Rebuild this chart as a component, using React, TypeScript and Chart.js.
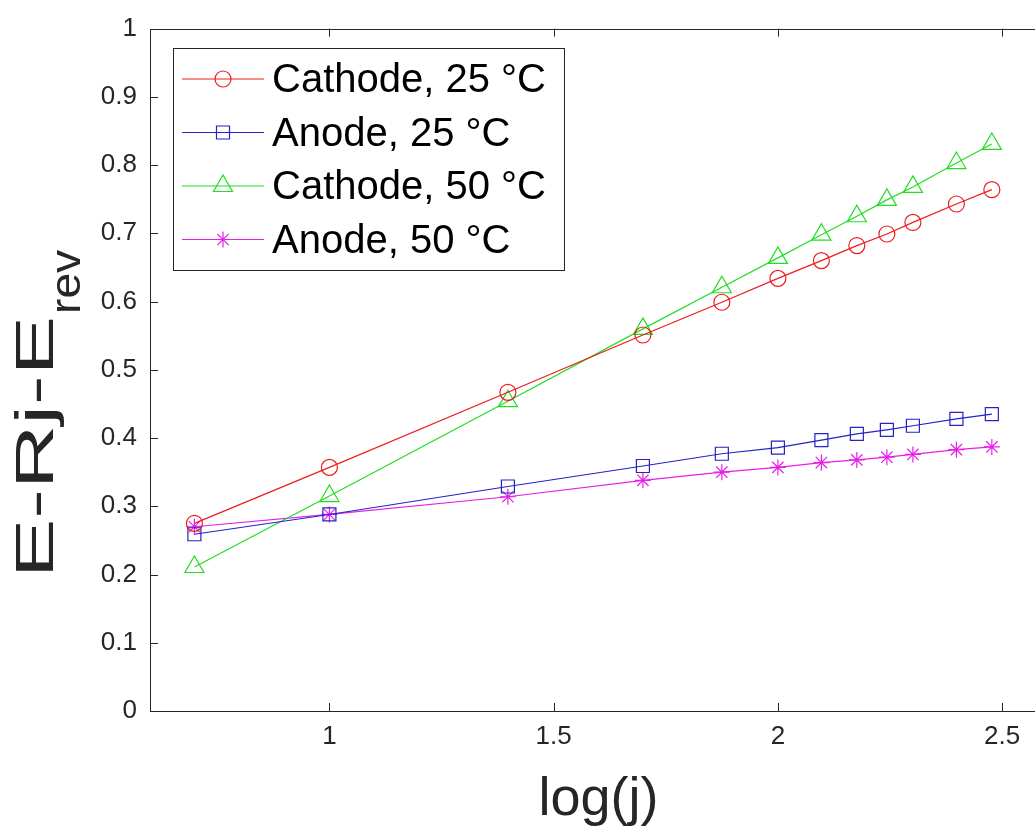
import React, { useEffect, useRef } from "react";
import { Chart, registerables } from "chart.js";

Chart.register(...registerables);

const xValues = [0.699, 1, 1.398, 1.699, 1.875, 2, 2.097, 2.176, 2.243, 2.301, 2.398, 2.477];
const cathode25 = [0.275, 0.357, 0.467, 0.551, 0.599, 0.634, 0.66, 0.682, 0.699, 0.716, 0.743, 0.764];
const anode25 = [0.259, 0.288, 0.329, 0.359, 0.377, 0.386, 0.397, 0.406, 0.412, 0.418, 0.428, 0.435];
const cathode50 = [0.211, 0.315, 0.454, 0.56, 0.621, 0.664, 0.698, 0.725, 0.749, 0.768, 0.803, 0.831];
const anode50 = [0.27, 0.288, 0.314, 0.338, 0.35, 0.357, 0.364, 0.368, 0.372, 0.376, 0.383, 0.387];

const seriesLabels = ["Cathode, 25 \u00B0C", "Anode, 25 \u00B0C", "Cathode, 50 \u00B0C", "Anode, 50 \u00B0C"];
const seriesColors = ["#ee1c1c", "#2323c8", "#22dd22", "#e81ee8"];
const seriesMarkers = ["circle", "rect", "triangle", "star"];
const seriesRadii = [8, 9.2, 11, 8];
const xTicks = [1, 1.5, 2, 2.5];
const yTickStep = 0.1;
const xTitle = "log(j)";
const yTitleMain = "E-Rj-E";
const yTitleSub = "rev";

const FONT = "'Liberation Sans', Arial, Helvetica, sans-serif";
const AXIS_COLOR = "#262626";

function drawMarker(ctx: CanvasRenderingContext2D, style: string, x: number, y: number, r: number) {
  ctx.beginPath();
  if (style === "circle") {
    ctx.arc(x, y, r, 0, Math.PI * 2);
  } else if (style === "rect") {
    const s = Math.SQRT1_2 * r;
    ctx.rect(x - s, y - s, 2 * s, 2 * s);
  } else if (style === "triangle") {
    let a = 0;
    ctx.moveTo(x + Math.sin(a) * r, y - Math.cos(a) * r);
    a += (2 * Math.PI) / 3;
    ctx.lineTo(x + Math.sin(a) * r, y - Math.cos(a) * r);
    a += (2 * Math.PI) / 3;
    ctx.lineTo(x + Math.sin(a) * r, y - Math.cos(a) * r);
    ctx.closePath();
  } else {
    ctx.moveTo(x - r, y);
    ctx.lineTo(x + r, y);
    ctx.moveTo(x, y - r);
    ctx.lineTo(x, y + r);
    const d = r * Math.SQRT1_2;
    ctx.moveTo(x - d, y - d);
    ctx.lineTo(x + d, y + d);
    ctx.moveTo(x - d, y + d);
    ctx.lineTo(x + d, y - d);
  }
  ctx.stroke();
}

const framePlugin = {
  id: "framePlugin",
  afterDatasetsDraw(chart: any) {
    const { ctx, chartArea } = chart;
    const { left, right, top, bottom } = chartArea;
    const xs = chart.scales.x;
    const ys = chart.scales.y;
    ctx.save();
    ctx.strokeStyle = AXIS_COLOR;
    ctx.lineWidth = 1;
    ctx.strokeRect(Math.round(left) + 0.5, Math.round(top) + 0.5, Math.round(right - left), Math.round(bottom - top));
    const tl = 8;
    ctx.beginPath();
    xTicks.forEach((v) => {
      const px = Math.round(xs.getPixelForValue(v)) + 0.5;
      ctx.moveTo(px, bottom);
      ctx.lineTo(px, bottom - tl);
      ctx.moveTo(px, top);
      ctx.lineTo(px, top + tl);
    });
    ys.ticks.forEach((t: any) => {
      const py = Math.round(ys.getPixelForValue(t.value)) + 0.5;
      ctx.moveTo(left, py);
      ctx.lineTo(left + tl, py);
      ctx.moveTo(right, py);
      ctx.lineTo(right - tl, py);
    });
    ctx.stroke();

    // legend
    const lx = 173, ly = 48, lw = 391, lh = 222;
    ctx.fillStyle = "#ffffff";
    ctx.fillRect(lx, ly, lw, lh);
    ctx.strokeStyle = AXIS_COLOR;
    ctx.strokeRect(lx + 0.5, ly + 0.5, lw, lh);
    const rowY = [79, 132.5, 186, 239.5];
    seriesLabels.forEach((lab, i) => {
      const y = rowY[i];
      ctx.strokeStyle = seriesColors[i];
      ctx.lineWidth = 1.2;
      ctx.beginPath();
      ctx.moveTo(182, y);
      ctx.lineTo(264, y);
      ctx.stroke();
      drawMarker(ctx, seriesMarkers[i], 223, y, seriesRadii[i]);
      ctx.fillStyle = "#000000";
      ctx.font = `40px ${FONT}`;
      ctx.textBaseline = "middle";
      ctx.textAlign = "left";
      ctx.fillText(lab, 272, y + 2);
    });
    ctx.restore();
  },
  afterDraw(chart: any) {
    const { ctx, chartArea } = chart;
    ctx.save();
    ctx.fillStyle = AXIS_COLOR;
    ctx.font = `54px ${FONT}`;
    ctx.textAlign = "center";
    ctx.textBaseline = "alphabetic";
    ctx.fillText(xTitle, (chartArea.left + chartArea.right) / 2, 815);
    ctx.restore();

    // y title with subscript (stretched along its length as in the source)
    ctx.save();
    ctx.fillStyle = AXIS_COLOR;
    ctx.textAlign = "left";
    ctx.textBaseline = "alphabetic";
    ctx.font = `54px ${FONT}`;
    const wMain = ctx.measureText(yTitleMain).width;
    const stretch = 262 / wMain;
    ctx.translate(53, 578);
    ctx.rotate(-Math.PI / 2);
    ctx.save();
    ctx.scale(stretch, 1);
    ctx.fillText(yTitleMain, 0, 0);
    ctx.restore();
    ctx.font = `42px ${FONT}`;
    ctx.save();
    ctx.translate(wMain * stretch + 2, 27);
    ctx.scale(1.1, 1);
    ctx.fillText(yTitleSub, 0, 0);
    ctx.restore();
    ctx.restore();
  },
};

export default function App() {
  const ref = useRef<HTMLCanvasElement | null>(null);
  useEffect(() => {
    if (!ref.current) return;
    const series = [cathode25, anode25, cathode50, anode50];
    const chart = new Chart(ref.current, {
      type: "line",
      data: {
        datasets: series.map((vals, i) => ({
          label: seriesLabels[i],
          data: xValues.map((x, j) => ({ x, y: vals[j] })),
          borderColor: seriesColors[i],
          backgroundColor: "rgba(0,0,0,0)",
          borderWidth: 1.2,
          pointStyle: seriesMarkers[i] as any,
          pointRadius: seriesRadii[i],
          pointBorderColor: seriesColors[i],
          pointBackgroundColor: "rgba(0,0,0,0)",
          pointBorderWidth: 1.2,
          tension: 0,
          fill: false,
        })),
      },
      options: {
        responsive: false,
        animation: false,
        devicePixelRatio: 1,
        layout: { padding: { top: 27, right: 43, left: 0, bottom: 0 } },
        plugins: { legend: { display: false }, tooltip: { enabled: false } },
        scales: {
          x: {
            type: "linear",
            min: 0.6,
            max: 2.6,
            grid: { display: false, drawTicks: false },
            border: { display: false },
            afterBuildTicks: (s: any) => {
              s.ticks = xTicks.map((v) => ({ value: v }));
            },
            afterFit: (s: any) => {
              s.height = 117;
            },
            ticks: {
              padding: 10,
              color: AXIS_COLOR,
              font: { family: FONT, size: 26 },
              maxRotation: 0,
              callback: (v: any) => String(v),
            },
          },
          y: {
            type: "linear",
            min: 0,
            max: 1,
            grid: { display: false, drawTicks: false },
            border: { display: false },
            afterFit: (s: any) => {
              s.width = 150;
            },
            ticks: {
              stepSize: yTickStep,
              padding: 13,
              color: AXIS_COLOR,
              font: { family: FONT, size: 26 },
              callback: (v: any) => String(Math.round(Number(v) * 10) / 10),
            },
          },
        },
      },
      plugins: [framePlugin],
    });
    return () => chart.destroy();
  }, []);
  return (
    <div style={{ position: "fixed", left: 0, top: 0, width: 1035, height: 828, overflow: "hidden", background: "#fff" }}>
      <canvas ref={ref} width={1090} height={828} style={{ width: 1090, height: 828, display: "block" }} />
    </div>
  );
}
